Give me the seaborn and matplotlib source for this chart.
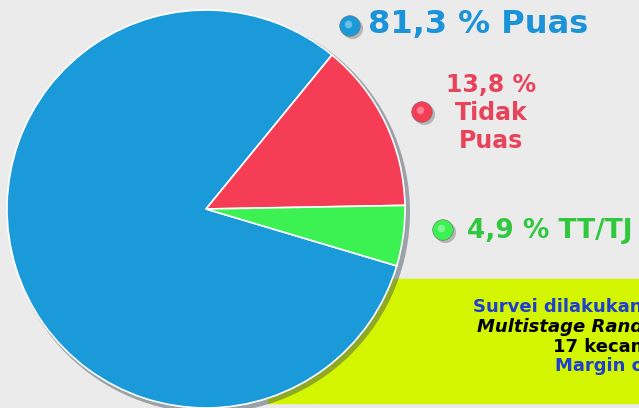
import matplotlib
matplotlib.use("Agg")
import matplotlib.pyplot as plt
import seaborn as sns
from matplotlib.patches import Rectangle, Circle

# data
labels = ["Puas", "Tidak Puas", "TT/TJ"]
values = [81.3, 13.8, 4.9]
slice_colors = ["#1a9ad9", "#f53d55", "#3cf152"]
text_colors = ["#1b93d8", "#e8435a", "#2fc83e"]
label_texts = ["81,3 % Puas", "13,8 %\nTidak\nPuas", "4,9 % TT/TJ"]
note_lines = ["Survei dilakukan dengan", "Multistage Random Sampling",
              "17 kecamatan", "Margin of error"]

sns.set_theme(style="white")
plt.rcParams['font.family'] = ['DejaVu Sans']

W, H = 639, 408
fig = plt.figure(figsize=(W / 100, H / 100), dpi=100)
fig.patch.set_facecolor("#ebebeb")
ax = fig.add_axes([0, 0, 1, 1])
ax.set_facecolor("#ebebeb")

def py(y):
    # pixel row -> data y
    return H - y

# lime note box behind the pie
ax.add_patch(Rectangle((268, py(403)), W - 268, 124, color="#d4f500", zorder=1))

# soft shadow under the pie
cx, cy, r = 206, py(209), 199
ax.add_patch(Circle((cx + 3, cy - 3), r + 2, color="#3b4a55", alpha=0.45, zorder=2, lw=0))

ax.pie(values, colors=slice_colors, startangle=-16.6, counterclock=False,
       center=(cx, cy), radius=r, frame=True,
       wedgeprops=dict(edgecolor="white", linewidth=1.2, zorder=3))

# bullet spheres
bullets_x = [350, 422, 443]
bullets_y = [py(26), py(112), py(230)]
sns.scatterplot(x=[b + 1.5 for b in bullets_x], y=[b - 2 for b in bullets_y], color="#555555",
                s=230, alpha=0.35, linewidth=0, legend=False, ax=ax, zorder=4)
sns.scatterplot(x=bullets_x, y=bullets_y, hue=labels, palette=slice_colors,
                s=220, edgecolor="#707070", linewidth=0.4, legend=False, ax=ax, zorder=5)
sns.scatterplot(x=[b - 2 for b in bullets_x], y=[b + 2.5 for b in bullets_y], color="white",
                s=30, alpha=0.35, linewidth=0, legend=False, ax=ax, zorder=6)

# labels
ax.text(368, py(24), label_texts[0], color=text_colors[0], fontsize=23,
        fontweight="bold", ha="left", va="center", zorder=6)
ax.text(491, py(113), label_texts[1], color=text_colors[1], fontsize=17,
        fontweight="bold", ha="center", va="center", linespacing=1.2, zorder=6)
ax.text(467, py(231), label_texts[2], color=text_colors[2], fontsize=19,
        fontweight="bold", ha="left", va="center", zorder=6)

# note text in the box, running off the right edge
note_x = [473, 477, 553, 555]
note_y = [307, 327, 347, 366]
note_col = ["#1d3fcf", "black", "black", "#1d3fcf"]
note_style = ["normal", "italic", "normal", "normal"]
for t, x, y, c, s in zip(note_lines, note_x, note_y, note_col, note_style):
    ax.text(x, py(y), t, color=c, fontsize=13, fontweight="bold", style=s,
            ha="left", va="center", zorder=6)

ax.set_xlim(0, W)
ax.set_ylim(0, H)
ax.set_aspect("equal")
ax.set_xticks([])
ax.set_yticks([])
for sp in ax.spines.values():
    sp.set_visible(False)

fig.savefig("out.png", dpi=100)
